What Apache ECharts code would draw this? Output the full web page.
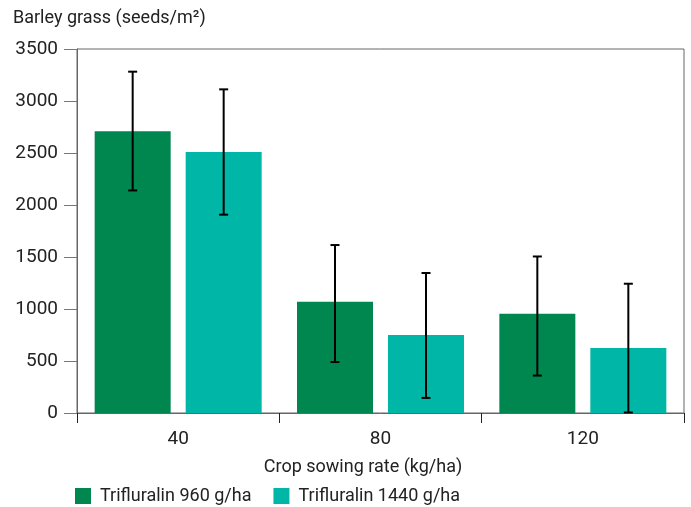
<!DOCTYPE html>
<html><head><meta charset="utf-8">
<script src="https://cdn.jsdelivr.net/npm/echarts@6/dist/echarts.min.js"></script>
<style>html,body{margin:0;padding:0;background:#fff}#c{width:691px;height:507px}</style>
</head><body><div id="c"></div>
<script>
const categories = ['40', '80', '120'];
const seriesNames = ['Trifluralin 960 g/ha', 'Trifluralin 1440 g/ha'];
const values960 = [2710, 1070, 955];
const values1440 = [2510, 750, 625];
const low960 = [2140, 490, 360];
const high960 = [3282, 1615, 1505];
const low1440 = [1907, 145, 5];
const high1440 = [3112, 1346, 1243];
const yTicks = [0, 500, 1000, 1500, 2000, 2500, 3000, 3500];

const colors = ['#00874F', '#00B6A6'];
const FONT = 'Roboto';
const BAR_W = 76, GAP = 15;

function errSeries(low, high, dir) {
  return {
    type: 'custom',
    z: 10,
    silent: true,
    data: categories.map((c, i) => [i, low[i], high[i]]),
    renderItem: function (params, api) {
      const off = dir * (BAR_W + GAP) / 2;
      const p1 = api.coord([api.value(0), api.value(1)]);
      const p2 = api.coord([api.value(0), api.value(2)]);
      const x = p1[0] + off;
      const hw = 4.5;
      const st = { stroke: '#000', lineWidth: 2 };
      return {
        type: 'group',
        children: [
          { type: 'line', shape: { x1: x, y1: p1[1], x2: x, y2: p2[1] }, style: st },
          { type: 'line', shape: { x1: x - hw, y1: p1[1], x2: x + hw, y2: p1[1] }, style: st },
          { type: 'line', shape: { x1: x - hw, y1: p2[1], x2: x + hw, y2: p2[1] }, style: st }
        ]
      };
    }
  };
}

const chart = echarts.init(document.getElementById('c'));
chart.setOption({
  animation: false,
  textStyle: { fontFamily: FONT },
  title: {
    text: 'Barley grass (seeds/m²)',
    left: 13, top: 9, padding: 0,
    textStyle: { fontFamily: FONT, fontSize: 18, fontWeight: 'normal', color: '#222' }
  },
  grid: { left: 77, right: 7, top: 49, bottom: 94, show: true, borderColor: '#666', borderWidth: 1 },
  legend: {
    left: 75, top: 487, padding: 0,
    itemWidth: 16, itemHeight: 16, itemGap: 22,
    icon: 'rect',
    textStyle: { fontFamily: FONT, fontSize: 18, color: '#222', padding: [0, 0, 0, 4] },
    data: seriesNames
  },
  xAxis: {
    type: 'category',
    data: categories,
    name: 'Crop sowing rate (kg/ha)',
    nameLocation: 'middle',
    nameGap: 45,
    nameTextStyle: { fontFamily: FONT, fontSize: 18, color: '#222', padding: [0, 35, 0, 0] },
    axisLine: { lineStyle: { color: '#666', width: 1 } },
    axisTick: { show: true, length: 10, lineStyle: { color: '#222' } },
    axisLabel: { fontFamily: FONT, fontSize: 19, color: '#222', margin: 17 }
  },
  yAxis: {
    type: 'value',
    min: yTicks[0], max: yTicks[yTicks.length - 1], interval: yTicks[1] - yTicks[0],
    axisLine: { show: true, lineStyle: { color: '#666', width: 1 } },
    axisTick: { show: true, length: 13, lineStyle: { color: '#777' } },
    axisLabel: { fontFamily: FONT, fontSize: 19, color: '#222', margin: 19, formatter: v => String(v) },
    splitLine: { show: false }
  },
  series: [
    { name: seriesNames[0], type: 'bar', data: values960, barWidth: BAR_W, barGap: (GAP / BAR_W * 100) + '%', itemStyle: { color: colors[0] } },
    { name: seriesNames[1], type: 'bar', data: values1440, barWidth: BAR_W, barGap: (GAP / BAR_W * 100) + '%', itemStyle: { color: colors[1] } },
    errSeries(low960, high960, -1),
    errSeries(low1440, high1440, 1)
  ]
});
</script></body></html>
